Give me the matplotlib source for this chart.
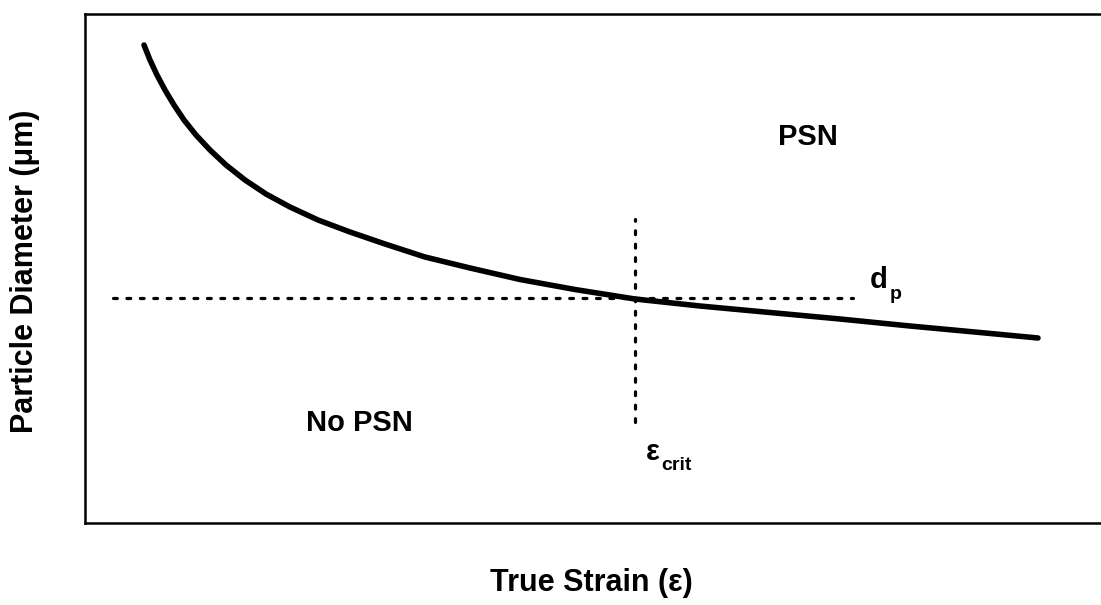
import matplotlib.pyplot as plt

plt.rcParams['font.family'] = ['Liberation Sans', 'DejaVu Sans']

# curve (arbitrary units)
strain = [0.59, 0.65, 0.72, 0.80, 0.89, 0.99, 1.11, 1.25, 1.41, 1.60, 1.81,
          2.05, 2.33, 2.65, 3.00, 3.40, 3.85, 4.35, 4.90, 5.50, 6.15, 6.85,
          7.55, 8.25, 8.95, 9.53]
diameter = [9.56, 9.26, 8.96, 8.66, 8.36, 8.06, 7.76, 7.46, 7.16, 6.86, 6.58,
            6.32, 6.06, 5.82, 5.58, 5.32, 5.10, 4.87, 4.67, 4.48, 4.34, 4.21,
            4.08, 3.94, 3.81, 3.70]

# critical values
d_p = 4.50
d_p_span = [0.28, 7.68]
eps_crit = 5.50
eps_crit_span = [2.02, 6.08]


def main():
    fig = plt.figure(figsize=(11.01, 6.05), dpi=100)
    ax = fig.add_axes([85 / 1101, 1 - 523 / 605, 1030 / 1101, 509 / 605])

    ax.plot(strain, diameter, color='black', lw=4.0, solid_capstyle='round',
            solid_joinstyle='round')
    ax.plot(d_p_span, [d_p, d_p], color='black', lw=2.3,
            linestyle=(0, (1.2, 3.0)), dash_capstyle='round')
    ax.plot([eps_crit, eps_crit], eps_crit_span, color='black', lw=2.3,
            linestyle=(0, (1.2, 3.0)), dash_capstyle='round')

    ax.set_xlim(0, 10.3)
    ax.set_ylim(0, 10.18)
    ax.set_xticks([])
    ax.set_yticks([])
    for s in ax.spines.values():
        s.set_linewidth(1.8)

    ax.text(7.23, 7.72, 'PSN', fontsize=21, fontweight='bold',
            ha='center', va='center')
    ax.text(2.74, 2.0, 'No PSN', fontsize=21, fontweight='bold',
            ha='center', va='center')

    # d_p label, subscript drawn as its own text
    ax.text(7.85, 4.70, 'd', fontsize=21, fontweight='bold',
            ha='left', va='baseline')
    ax.text(8.05, 4.48, 'p', fontsize=14, fontweight='bold',
            ha='left', va='baseline')

    # eps_crit label
    ax.text(5.61, 1.26, '\u03b5', fontsize=21, fontweight='bold',
            ha='left', va='baseline')
    ax.text(5.76, 1.06, 'crit', fontsize=14, fontweight='bold',
            ha='left', va='baseline')

    fig.text(591 / 1101, 1 - 583 / 605, 'True Strain (\u03b5)', fontsize=22,
             fontweight='bold', ha='center', va='center')
    fig.text(25 / 1101, 1 - 271 / 605, 'Particle Diameter (\u03bcm)', fontsize=22,
             fontweight='bold', ha='center', va='center', rotation=90)

    fig.savefig('out.png', dpi=100)


if __name__ == '__main__':
    main()
